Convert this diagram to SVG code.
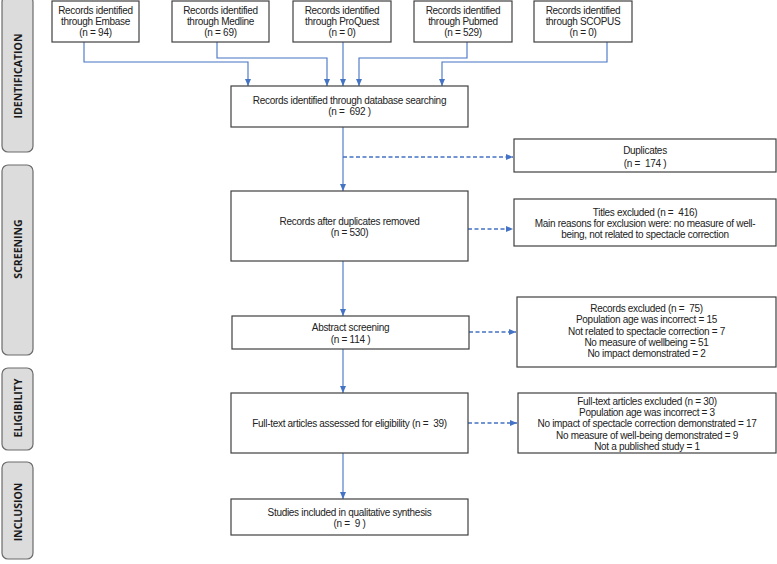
<svg xmlns="http://www.w3.org/2000/svg" width="777" height="564" viewBox="0 0 777 564">
<defs>
<marker id="ah" markerUnits="userSpaceOnUse" markerWidth="7" markerHeight="7" viewBox="0 0 7 6" refX="7" refY="3" orient="auto">
<path d="M0,0 L7,3 L0,6 Z" fill="#4472c4"/>
</marker>
</defs>
<style>
.side{fill:#dcdcdc;stroke:#6b6b6b;stroke-width:1.2}
.st{font-family:"Open Sans","Liberation Sans",sans-serif;font-weight:bold;font-size:10.5px;fill:#1a1a1a;text-anchor:middle}
.box{fill:#fff;stroke:#404040;stroke-width:1.2}
.t{font-family:"Liberation Sans",Arial,sans-serif;font-size:10px;fill:#222;text-anchor:middle;letter-spacing:-0.3px}
.c{fill:none;stroke:#4472c4;stroke-width:1.1}
.d{fill:none;stroke:#4472c4;stroke-width:1.3;stroke-dasharray:4,2.5}
</style>
<rect width="777" height="564" fill="#fff"/>
<g id="side-identification"><rect class="side" x="2" y="-4" width="31" height="156" rx="6"/><text class="st" transform="translate(21.5,76) rotate(-90)">IDENTIFICATION</text></g>
<g id="side-screening"><rect class="side" x="2" y="165" width="31" height="190" rx="6"/><text class="st" transform="translate(21.5,249) rotate(-90)">SCREENING</text></g>
<g id="side-eligibility"><rect class="side" x="2" y="368" width="31" height="82" rx="6"/><text class="st" transform="translate(21.5,408) rotate(-90)">ELIGIBILITY</text></g>
<g id="side-inclusion"><rect class="side" x="2" y="462" width="31" height="97" rx="6"/><text class="st" transform="translate(21.5,512) rotate(-90)">INCLUSION</text></g>

<g id="connectors">
<path class="c" d="M84,42 V62 H248 V86" marker-end="url(#ah)"/>
<path class="c" d="M217,42 V58 H327 V86" marker-end="url(#ah)"/>
<path class="c" d="M343,42 V86" marker-end="url(#ah)"/>
<path class="c" d="M467,42 V58 H359 V86" marker-end="url(#ah)"/>
<path class="c" d="M607,42 V62 H442 V86" marker-end="url(#ah)"/>
<path class="c" d="M343,127 V191" marker-end="url(#ah)"/>
<path class="d" d="M343,157 H513" marker-end="url(#ah)"/>
<path class="c" d="M343,261 V316" marker-end="url(#ah)"/>
<path class="d" d="M468,229 H513" marker-end="url(#ah)"/>
<path class="d" d="M469,332 H516" marker-end="url(#ah)"/>
<path class="c" d="M343,349 V393" marker-end="url(#ah)"/>
<path class="d" d="M468,423 H517" marker-end="url(#ah)"/>
<path class="c" d="M343,453 V499" marker-end="url(#ah)"/>
</g>

<g id="embase"><rect class="box" x="52" y="1" width="87" height="41"/><text class="t" x="95.5" y="13.5">Records identified</text><text class="t" x="95.5" y="24.5">through Embase</text><text class="t" x="95.5" y="36">(n = 94)</text></g>
<g id="medline"><rect class="box" x="172" y="1" width="97" height="41"/><text class="t" x="220.5" y="13.5">Records identified</text><text class="t" x="220.5" y="24.5">through Medline</text><text class="t" x="220.5" y="36">(n = 69)</text></g>
<g id="proquest"><rect class="box" x="293" y="1" width="98" height="41"/><text class="t" x="342" y="13.5">Records identified</text><text class="t" x="342" y="24.5">through ProQuest</text><text class="t" x="342" y="36">(n = 0)</text></g>
<g id="pubmed"><rect class="box" x="414" y="1" width="98" height="41"/><text class="t" x="463" y="13.5">Records identified</text><text class="t" x="463" y="24.5">through Pubmed</text><text class="t" x="463" y="36">(n = 529)</text></g>
<g id="scopus"><rect class="box" x="534" y="1" width="98" height="41"/><text class="t" x="583" y="13.5">Records identified</text><text class="t" x="583" y="24.5">through SCOPUS</text><text class="t" x="583" y="36">(n = 0)</text></g>

<g id="database"><rect class="box" x="231" y="86" width="237" height="41"/><text class="t" x="349.5" y="103.5">Records identified through database searching</text><text class="t" x="349.5" y="115" xml:space="preserve">(n =  692 )</text></g>
<g id="duplicates"><rect class="box" x="514" y="139" width="262" height="33"/><text class="t" x="645" y="153.5">Duplicates</text><text class="t" x="645" y="166.5" xml:space="preserve">(n =  174 )</text></g>
<g id="after-dup"><rect class="box" x="231" y="191" width="237" height="70"/><text class="t" x="349.5" y="224.5">Records after duplicates removed</text><text class="t" x="349.5" y="235.5">(n = 530)</text></g>
<g id="titles-excluded"><rect class="box" x="514" y="199" width="262" height="47"/><text class="t" x="645" y="215.5" xml:space="preserve">Titles excluded (n =  416)</text><text class="t" x="645" y="226.5">Main reasons for exclusion were: no measure of well-</text><text class="t" x="645" y="237.5">being, not related to spectacle correction</text></g>
<g id="abstract"><rect class="box" x="232" y="316" width="237" height="33"/><text class="t" x="350.5" y="330.5">Abstract screening</text><text class="t" x="350.5" y="342.5">(n = 114 )</text></g>
<g id="records-excluded"><rect class="box" x="517" y="297" width="259" height="70"/><text class="t" x="646.5" y="311.5" xml:space="preserve">Records excluded (n =  75)</text><text class="t" x="646.5" y="323">Population age was incorrect = 15</text><text class="t" x="646.5" y="334.5">Not related to spectacle correction = 7</text><text class="t" x="646.5" y="345.5">No measure of wellbeing = 51</text><text class="t" x="646.5" y="357">No impact demonstrated = 2</text></g>
<g id="fulltext"><rect class="box" x="231" y="393" width="237" height="60"/><text class="t" x="349.5" y="426.5" xml:space="preserve">Full-text articles assessed for eligibility (n =  39)</text></g>
<g id="fulltext-excluded"><rect class="box" x="518" y="393" width="258" height="60"/><text class="t" x="647" y="404.5">Full-text articles excluded (n = 30)</text><text class="t" x="647" y="415.5">Population age was incorrect = 3</text><text class="t" x="647" y="427">No impact of spectacle correction demonstrated = 17</text><text class="t" x="647" y="438.5">No measure of well-being demonstrated = 9</text><text class="t" x="647" y="449.5">Not a published study = 1</text></g>
<g id="included"><rect class="box" x="231" y="499" width="237" height="36"/><text class="t" x="349.5" y="515.5">Studies included in qualitative synthesis</text><text class="t" x="349.5" y="527" xml:space="preserve">(n =  9 )</text></g>
</svg>
